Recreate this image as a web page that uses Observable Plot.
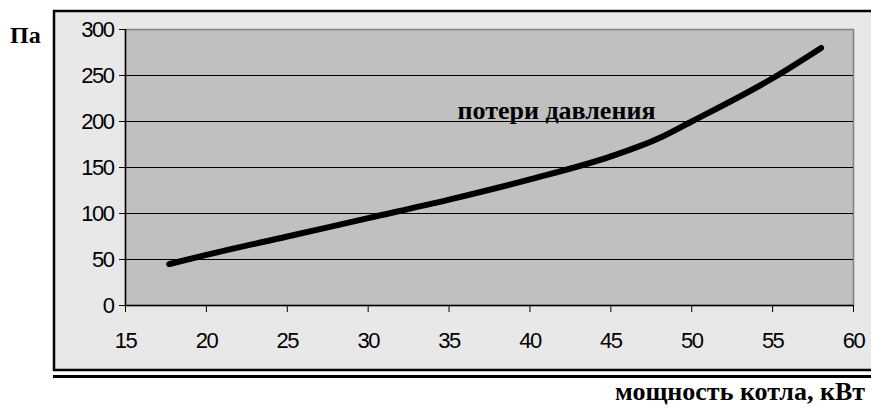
<!DOCTYPE html>
<html>
<head>
<meta charset="utf-8">
<script src="https://cdn.jsdelivr.net/npm/d3@7"></script>
<script src="https://cdn.jsdelivr.net/npm/@observablehq/plot@0.6"></script>
<style>
  html, body { margin: 0; padding: 0; background: #ffffff; }
  svg { display: block; }
</style>
</head>
<body>
<div id="chart"></div>
<script>
// Data
const power = [17.7, 20, 25, 30, 35, 40, 45, 48, 50, 55, 58];        // мощность котла, кВт
const pressureLoss = [45, 55, 75, 95, 115, 137, 162, 182, 200, 247, 280]; // потери давления, Па
const xTicks = [15, 20, 25, 30, 35, 40, 45, 50, 55, 60];
const yTicks = [0, 50, 100, 150, 200, 250, 300];
const seriesName = "потери давления";
const yUnit = "Па";
const xTitle = "мощность котла, кВт";

const data = power.map((p, i) => ({power: p, loss: pressureLoss[i]}));

const W = 871, H = 414;
const mLeft = 125, mRight = 18, mTop = 29, mBottom = 109;

const sans = "'Liberation Sans', Arial, sans-serif";
const serif = "'Liberation Serif', 'Times New Roman', serif";

const svg = Plot.plot({
  width: W,
  height: H,
  marginLeft: mLeft,
  marginRight: mRight,
  marginTop: mTop,
  marginBottom: mBottom,
  style: {background: "transparent", fontFamily: sans},
  x: {domain: [15, 60], ticks: xTicks},
  y: {domain: [0, 300], ticks: yTicks},
  marks: [
    Plot.frame({fill: "#c0c0c0", stroke: "#808080", strokeWidth: 1.5}),
    Plot.gridY(yTicks.filter(d => d > 0 && d < 300), {stroke: "#000", strokeOpacity: 1, strokeWidth: 1}),
    Plot.ruleY([0], {stroke: "#000", strokeWidth: 1.5}),
    Plot.ruleX([15], {stroke: "#000", strokeWidth: 1.5}),
    Plot.axisY({ticks: yTicks, tickSize: 6, tickPadding: 6, label: null,
      fontSize: 22, fontFamily: sans, fill: "#000"}),
    Plot.axisX({ticks: xTicks, tickSize: 7, tickPadding: 20, label: null,
      fontSize: 22, fontFamily: sans, fill: "#000"}),
    Plot.line(data, {x: "power", y: "loss", stroke: "#000", strokeWidth: 6,
      strokeLinecap: "round", strokeLinejoin: "round", curve: "monotone-x"}),
    Plot.text([seriesName], {text: d => d, frameAnchor: "top", dx: 67, dy: 89,
      lineAnchor: "bottom", fontSize: 26, fontWeight: "bold", fontFamily: serif, fill: "#000"})
  ]
});

const s = d3.select(svg);
s.selectAll("g[aria-label='y-axis tick label'] text, g[aria-label='x-axis tick label'] text")
  .style("letter-spacing", "-1.5px");

// outer chart-area box (drawn behind everything)
s.insert("rect", ":first-child")
  .attr("x", 54).attr("y", 11).attr("width", 900).attr("height", 359)
  .attr("fill", "#e8e8e8").attr("stroke", "#000").attr("stroke-width", 2.5);
s.insert("rect", ":first-child")
  .attr("x", 0).attr("y", 0).attr("width", W).attr("height", H).attr("fill", "#fff");

// second rule under the box
s.append("line")
  .attr("x1", 53).attr("x2", W).attr("y1", 376.5).attr("y2", 376.5)
  .attr("stroke", "#000").attr("stroke-width", 3);

// unit label
s.append("text")
  .attr("x", 10).attr("y", 43).attr("text-anchor", "start")
  .attr("font-family", serif).attr("font-weight", "bold").attr("font-size", 24)
  .attr("fill", "#000").text(yUnit);

// x title
s.append("text")
  .attr("x", 865).attr("y", 400).attr("text-anchor", "end")
  .attr("font-family", serif).attr("font-weight", "bold").attr("font-size", 26)
  .attr("fill", "#000").text(xTitle);

document.getElementById("chart").appendChild(svg);
</script>
</body>
</html>
